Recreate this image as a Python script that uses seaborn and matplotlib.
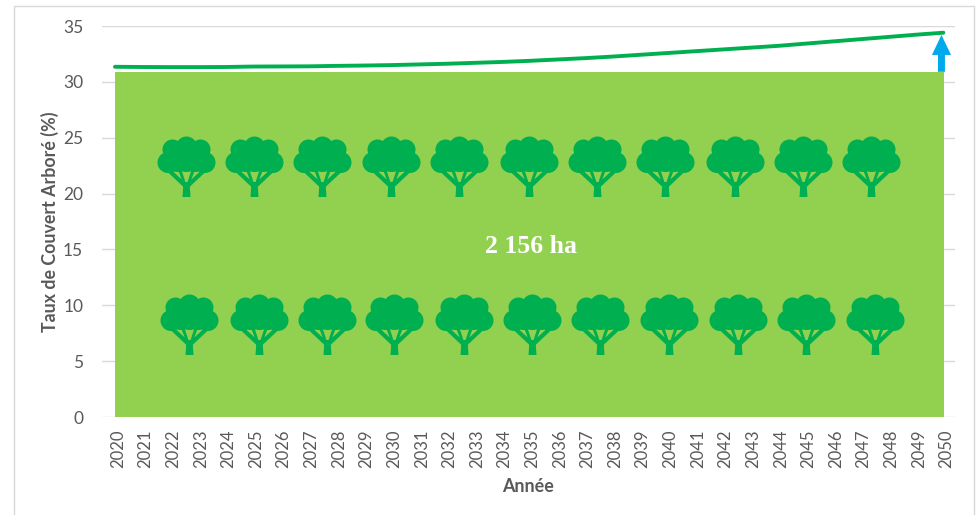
import numpy as np
import matplotlib
matplotlib.use("Agg")
import matplotlib.pyplot as plt
from matplotlib.path import Path
from matplotlib.patches import Rectangle
from matplotlib.transforms import ScaledTranslation
import seaborn as sns

years = list(range(2020, 2051))
cover = [31.35, 31.33, 31.32, 31.32, 31.33, 31.37, 31.38, 31.39, 31.43, 31.46, 31.50,
         31.56, 31.62, 31.70, 31.78, 31.88, 32.00, 32.12, 32.26, 32.42, 32.58,
         32.74, 32.90, 33.06, 33.22, 33.42, 33.62, 33.82, 34.02, 34.22, 34.40]
area_years = [2020, 2050.03]
area_level = [30.9, 30.9]
arrow_year = 2049.93
tree_top_x = [2022.57, 2025.03, 2027.49, 2029.99, 2032.45, 2034.99, 2037.45, 2039.91, 2042.45, 2044.91, 2047.37]
tree_bottom_x = [2022.68, 2025.21, 2027.68, 2030.10, 2032.64, 2035.10, 2037.56, 2040.06, 2042.56, 2045.02, 2047.52]
tree_top_y = [22.5] * 11
tree_bottom_y = [8.3] * 11
yticks = [0, 5, 10, 15, 20, 25, 30, 35]

GREY = "#595959"
GREEN = "#00B050"
LIGHT = "#92D050"
BLUE = "#00A8EC"

sns.set_theme(style="white")
plt.rcParams["font.family"] = ["Lato", "DejaVu Sans"]


def poly(pts):
    pts = np.array(pts, float)
    x, y = pts[:, 0], pts[:, 1]
    if np.sum(x * np.roll(y, -1) - np.roll(x, -1) * y) < 0:
        pts = pts[::-1]
    return Path(np.vstack([pts, pts[:1]]), closed=True)


def tree_marker():
    parts = []
    for cx, cy, r in [(0, 41, 16), (-9, 37.5, 12.5), (9, 37.5, 12.5), (-18.5, 34.5, 10.5), (18.5, 34.5, 10.5),
                      (-14, 47.5, 10), (14, 47.5, 10), (0, 50, 10.5)]:
        parts.append(Path.circle((cx, cy - 30.5), r))
    shapes = [
        [(-4, 0), (4, 0), (3, 15), (-3, 15)],
        [(-3, 10), (-1, 14), (-15, 27), (-20, 26)],
        [(3, 10), (1, 14), (15, 27), (20, 26)],
        [(-2.6, 12), (-0.4, 13), (-5, 27), (-8.5, 27)],
        [(2.6, 12), (0.4, 13), (5, 27), (8.5, 27)],
    ]
    for s in shapes:
        parts.append(poly([(a, b - 30.5) for a, b in s]))
    return Path.make_compound_path(*parts)


fig = plt.figure(figsize=(9.77, 5.15), dpi=100, facecolor="white")
ax = fig.add_axes([102 / 977, 1 - 417 / 515, 853 / 977, 391 / 515])
ax.set_facecolor("white")

ax.fill_between(area_years, 0, area_level, color=LIGHT, linewidth=0, zorder=1)
sns.lineplot(x=years, y=cover, color=GREEN, linewidth=2.8, ax=ax, zorder=3)

marker = tree_marker()
sns.scatterplot(x=tree_top_x, y=tree_top_y, marker=marker, s=1929, color=GREEN, linewidth=0, ax=ax, zorder=2)
sns.scatterplot(x=tree_bottom_x, y=tree_bottom_y, marker=marker, s=1929, color=GREEN, linewidth=0, ax=ax, zorder=2)

ax.annotate("", xy=(arrow_year, cover[-1] - 0.2), xytext=(arrow_year, area_level[-1]),
            arrowprops=dict(width=5, headwidth=13.7, headlength=14.4, color=BLUE, shrink=0, linewidth=0),
            zorder=4)

ax.text(2035.05, 15.25, "2 156 ha", color="white", family="Liberation Serif", weight="bold",
        fontsize=18.5, ha="center", va="center", zorder=5)

ax.set_xlim(2019.53, 2050.42)
ax.set_ylim(0, 35)
ax.set_xticks(years)
ax.set_yticks(yticks)
ax.set_axisbelow(True)
ax.grid(axis="y", color="#D9D9D9", linewidth=1)
ax.grid(axis="x", visible=False)
sns.despine(ax=ax, left=True, bottom=True, top=True, right=True)
ax.tick_params(axis="x", length=0, pad=9.2, labelrotation=90, labelsize=12, labelcolor=GREY)
ax.tick_params(axis="y", length=0, pad=13.5, labelsize=12.5, labelcolor=GREY)
shift = ScaledTranslation(3 / 100, 0, fig.dpi_scale_trans)
for lab in ax.get_xticklabels():
    lab.set_transform(lab.get_transform() + shift)

fig.text(528 / 977, 1 - 487 / 515, "Année", color=GREY, weight="bold", fontsize=12.9,
         ha="center", va="center")
fig.text(49.5 / 977, 1 - 222 / 515, "Taux de Couvert Arboré (%)", color=GREY, weight="bold", fontsize=12.8,
         rotation=90, ha="center", va="center")

fig.add_artist(Rectangle((14 / 977, -0.05), 960 / 977, 1.05 - 6 / 515, transform=fig.transFigure,
                         fill=False, edgecolor="#D9D9D9", linewidth=1))

fig.savefig("out.png", dpi=100, facecolor="white")
